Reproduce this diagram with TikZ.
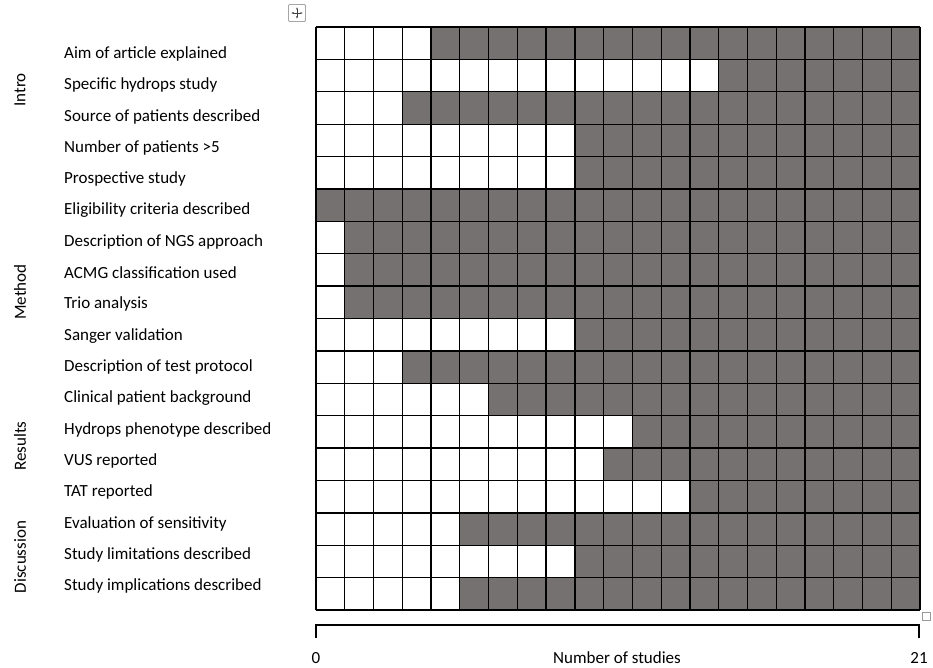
\documentclass[tikz,border=0pt]{standalone}
\usepackage{fontspec}
\setmainfont{Carlito}
\usetikzlibrary{positioning,arrows.meta}
\definecolor{cellgrey}{RGB}{117,113,112}

\begin{document}
\begin{tikzpicture}[x=1pt,y=-1pt,
		itemlabel/.style={anchor=west,inner sep=0pt,font=\fontsize{17}{20}\selectfont},
		grouplabel/.style={rotate=90,inner sep=0pt,font=\fontsize{17}{20}\selectfont},
		gridline/.style={line width=1.3pt}]
		\useasboundingbox (0,0) rectangle (933,668);
		% shaded cells, one row per item
		\foreach \r/\w/\txt in {1/4/Aim of article explained,2/14/Specific hydrops study,3/3/Source of patients described,4/9/Number of patients >5,5/9/Prospective study,6/0/Eligibility criteria described,7/1/Description of NGS approach,8/1/ACMG classification used,9/1/Trio analysis,10/9/Sanger validation,11/3/Description of test protocol,12/6/Clinical patient background,13/11/Hydrops phenotype described,14/10/VUS reported,15/13/TAT reported,16/5/Evaluation of sensitivity,17/9/Study limitations described,18/5/Study implications described}{
			\fill[cellgrey] (316+28.762*\w,27+32.39*\r-32.39) rectangle (920,27+32.39*\r);
			\node[itemlabel] (item\r) at (64,54+31.3*\r-31.3) {\txt};
		}
		\foreach \i in {0,...,21}
			\draw[gridline] (316+28.762*\i,27) -- (316+28.762*\i,610);
		\foreach \j in {0,...,18}
			\draw[gridline] (316,27+32.39*\j) -- (920,27+32.39*\j);
		% section names
		\node[grouplabel] (intro) at (20,90) {Intro};
		\node[grouplabel] (method) at (20,292) {Method};
		\node[grouplabel] (results) at (20,446) {Results};
		\node[grouplabel] (discussion) at (20,557) {Discussion};
		% axis bracket
		\coordinate (axisL) at (316,638);
		\coordinate (axisR) at (919,638);
		\draw[line width=1.6pt] (axisL) -- ++(0,-13) -| (axisR);
		\node[itemlabel,anchor=center] (zero) at (316,658) {0};
		\node[itemlabel,anchor=center] (total) at (919,658) {21};
		\node[itemlabel,anchor=center] (axistitle) at (617,658) {Number of studies};
		% table handles
		\node[draw=black!35,fill=white,line width=0.8pt,minimum size=17pt,inner sep=0pt,rounded corners=1pt] (movehandle) at (297,13) {};
		\draw[{Latex[length=2.5pt]}-{Latex[length=2.5pt]},line width=0.8pt,black!75] ([xshift=-6pt]movehandle.center) -- ([xshift=6pt]movehandle.center);
		\draw[{Latex[length=2.5pt]}-{Latex[length=2.5pt]},line width=0.8pt,black!75] ([yshift=-6pt]movehandle.center) -- ([yshift=6pt]movehandle.center);
		\node[draw=black!40,fill=white,line width=0.8pt,minimum size=8pt,inner sep=0pt] (sizehandle) at (926,616) {};
	\end{tikzpicture}
\end{document}
